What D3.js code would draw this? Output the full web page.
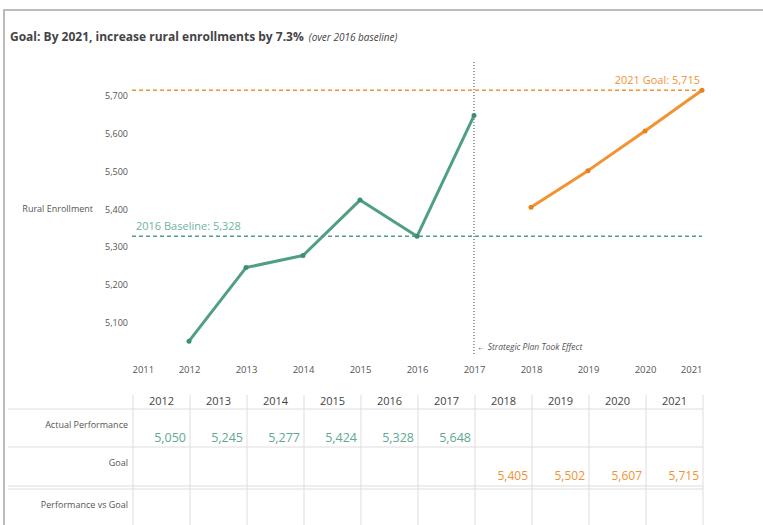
<!DOCTYPE html>
<html>
<head>
<meta charset="utf-8">
<script src="https://cdn.jsdelivr.net/npm/d3@7"></script>
<style>
  body { margin: 0; background: #fff; }
  text { font-family: "Open Sans", sans-serif; }
</style>
</head>
<body>
<div id="chart"></div>
<script>
// dados ------------------------------------------------
const axisYears = [2011, 2012, 2013, 2014, 2015, 2016, 2017, 2018, 2019, 2020, 2021];
const tableYears = [2012, 2013, 2014, 2015, 2016, 2017, 2018, 2019, 2020, 2021];
const actualYears = [2012, 2013, 2014, 2015, 2016, 2017];
const actualValues = [5050, 5245, 5277, 5424, 5328, 5648];
const goalYears = [2018, 2019, 2020, 2021];
const goalValues = [5405, 5502, 5607, 5715];
const yTicks = [5100, 5200, 5300, 5400, 5500, 5600, 5700];
const baseline = 5328;
const goal2021 = 5715;
const effectYear = 2017;
const rowLabels = ["Actual Performance", "Goal", "Performance vs Goal"];

const teal = "#4f9e88", orange = "#f39232", grey = "#555";
const fmt = d3.format(",");

const svg = d3.select("#chart").append("svg")
  .attr("width", 763).attr("height", 525);

// moldura
svg.append("path").attr("d", "M4,525V10H763")
  .attr("fill", "none").attr("stroke", "#bbb").attr("stroke-width", 2);

// titulo
const title = svg.append("text").attr("x", 10).attr("y", 41)
  .attr("fill", "#444").attr("font-size", 12).attr("font-weight", "bold");
title.append("tspan").text("Goal: By 2021, increase rural enrollments by 7.3%");
title.append("tspan").attr("dx", 5).attr("font-weight", "normal")
  .attr("font-style", "italic").attr("font-size", 10).text("(over 2016 baseline)");

// escalas
const x = d3.scaleLinear().domain([2011, 2021]).range([132, 702]);
const y = d3.scaleLinear().domain([5000, 5790]).range([360, 62]);

// eixo Y
const gy = svg.append("g").attr("transform", "translate(128,0)")
  .call(d3.axisLeft(y).tickValues(yTicks).tickSize(0).tickFormat(fmt));
gy.select(".domain").remove();
gy.selectAll("text").attr("font-family", "Open Sans").attr("font-size", 9)
  .attr("fill", grey).attr("x", 0);
svg.append("text").attr("x", 93).attr("y", y(5400)).attr("dy", "0.32em")
  .attr("text-anchor", "end").attr("font-size", 9).attr("fill", grey)
  .text("Rural Enrollment");

// eixo X
const gx = svg.append("g").attr("transform", "translate(0,363)")
  .call(d3.axisBottom(x).tickValues(axisYears).tickSize(0).tickFormat(d3.format("d")));
gx.select(".domain").remove();
gx.selectAll("text").attr("font-family", "Open Sans").attr("font-size", 9.5).attr("fill", grey)
  .attr("text-anchor", (d, i) => i === 0 ? "start" : (i === axisYears.length - 1 ? "end" : "middle"));

// linhas de referencia
svg.append("line").attr("x1", x(2011)).attr("x2", x(2021))
  .attr("y1", y(goal2021)).attr("y2", y(goal2021))
  .attr("stroke", orange).attr("stroke-width", 1.5).attr("stroke-dasharray", "4,3");
svg.append("text").attr("x", x(2021) - 2).attr("y", y(goal2021) - 6)
  .attr("text-anchor", "end").attr("font-size", 11).attr("fill", orange)
  .text("2021 Goal: " + fmt(goal2021));

svg.append("line").attr("x1", x(2011)).attr("x2", x(2021))
  .attr("y1", y(baseline)).attr("y2", y(baseline))
  .attr("stroke", teal).attr("stroke-width", 1.5).attr("stroke-dasharray", "4,3");
svg.append("text").attr("x", x(2011) + 4).attr("y", y(baseline) - 6)
  .attr("font-size", 11).attr("fill", "#6fb3a0")
  .text("2016 Baseline: " + fmt(baseline));

// linha vertical do plano
svg.append("line").attr("x1", x(effectYear)).attr("x2", x(effectYear))
  .attr("y1", 62).attr("y2", 354)
  .attr("stroke", "#444").attr("stroke-width", 1).attr("stroke-dasharray", "1,2");
svg.append("text").attr("x", x(effectYear) + 3).attr("y", 350)
  .attr("font-size", 8.5).attr("font-style", "italic").attr("fill", grey)
  .text("\u2190 Strategic Plan Took Effect");

// series
const line = d3.line().x(d => x(d[0])).y(d => y(d[1]));
const actual = actualYears.map((yr, i) => [yr, actualValues[i]]);
const goal = goalYears.map((yr, i) => [yr, goalValues[i]]);

svg.append("path").datum(actual).attr("d", line)
  .attr("fill", "none").attr("stroke", teal).attr("stroke-width", 3)
  .attr("stroke-linejoin", "round");
svg.append("path").datum(goal).attr("d", line)
  .attr("fill", "none").attr("stroke", orange).attr("stroke-width", 3)
  .attr("stroke-linejoin", "round");

svg.append("g").selectAll("circle").data(actual).join("circle")
  .attr("cx", d => x(d[0])).attr("cy", d => y(d[1])).attr("r", 2.5).attr("fill", "#3f8d77");
svg.append("g").selectAll("circle").data(goal).join("circle")
  .attr("cx", d => x(d[0])).attr("cy", d => y(d[1])).attr("r", 2.5).attr("fill", "#e8821c");

// tabela ------------------------------------------------
const col = d3.scaleBand().domain(tableYears).range([133, 703]);
const rowY = [395, 409, 447, 486, 489, 525];
const gridColor = "#ddd";

const tbl = svg.append("g");
// linhas verticais
tbl.selectAll(".vl").data(tableYears.concat(["end"])).join("line")
  .attr("x1", (d, i) => i < tableYears.length ? col(d) : col.range()[1])
  .attr("x2", (d, i) => i < tableYears.length ? col(d) : col.range()[1])
  .attr("y1", rowY[0]).attr("y2", 525)
  .attr("stroke", gridColor);
// linhas horizontais
tbl.selectAll(".hl").data([rowY[1], rowY[2], rowY[3], rowY[4]]).join("line")
  .attr("x1", 8).attr("x2", 703).attr("y1", d => d).attr("y2", d => d)
  .attr("stroke", gridColor);

// cabecalho
tbl.selectAll(".hd").data(tableYears).join("text")
  .attr("x", d => col(d) + col.bandwidth() / 2).attr("y", 405)
  .attr("text-anchor", "middle").attr("font-size", 11).attr("fill", "#444")
  .text(d => d);

// rotulos das linhas
const labelY = [428, 466, 508];
tbl.selectAll(".rl").data(rowLabels).join("text")
  .attr("x", 128).attr("y", (d, i) => labelY[i])
  .attr("text-anchor", "end").attr("font-size", 9).attr("fill", grey)
  .text(d => d);

// valores
tbl.selectAll(".av").data(actual).join("text")
  .attr("x", d => col(d[0]) + col.bandwidth() - 4).attr("y", 442)
  .attr("text-anchor", "end").attr("font-size", 12.5).attr("fill", "#5fa891")
  .text(d => fmt(d[1]));
tbl.selectAll(".gv").data(goal).join("text")
  .attr("x", d => col(d[0]) + col.bandwidth() - 4).attr("y", 480)
  .attr("text-anchor", "end").attr("font-size", 12).attr("fill", orange)
  .text(d => fmt(d[1]));
</script>
</body>
</html>
